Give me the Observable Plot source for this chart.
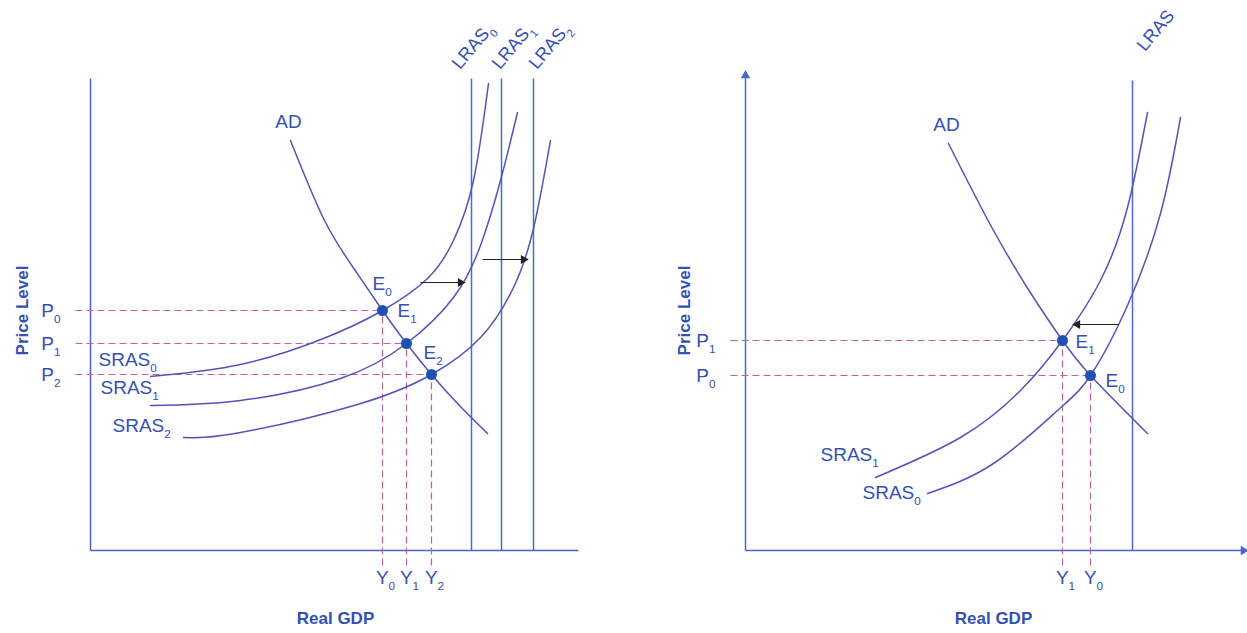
<!DOCTYPE html>
<html><head><meta charset="utf-8">
<script src="https://cdn.jsdelivr.net/npm/d3@7"></script>
<script src="https://cdn.jsdelivr.net/npm/@observablehq/plot@0.6"></script>
<style>
body{margin:0;background:#fff;}
#wrap{display:flex;width:1247px;height:633px;overflow:hidden;}
svg{display:block}
</style>
</head><body><div id="wrap"></div>
<script>
// ---- Left panel: positive supply shock (units: real GDP along x, price level along y, origin at axes corner)
const L_AD     = [[200,410],[233,332],[262,284],[292,240],[316,207],[341,176],[367,147],[397,117]];
const L_SRAS0  = [[60,174],[150,186],[233,212],[292,240],[337,272],[363,310],[383,370],[398,467]];
const L_SRAS1  = [[60,145],[150,150],[250,172],[316,207],[363,253],[390,305],[410,370],[427,438]];
const L_SRAS2  = [[93,113],[150,118],[267,146],[341,176],[390,213],[423,263],[443,322],[460,410]];
const L_LRAS   = [381, 411, 443];
const L_EQ     = [{name:"E_0", x:292, y:240}, {name:"E_1", x:316, y:207}, {name:"E_2", x:341, y:176}];
const L_Ylab   = ["Y_0","Y_1","Y_2"];
const L_Plab   = ["P_0","P_1","P_2"];
const L_shifts = [{x1:330, x2:370, y:268}, {x1:392, x2:433, y:291}];
const L_curveLabels = [{t:"SRAS_0", x:8, y:191}, {t:"SRAS_1", x:10, y:163}, {t:"SRAS_2", x:22, y:125}];
const L_eqLabels = [{t:"E_0", x:282, y:267}, {t:"E_1", x:307, y:240}, {t:"E_2", x:333, y:198}];
const L_lrasLabels = [{t:"LRAS_0", x:365, y:484}, {t:"LRAS_1", x:405, y:484}, {t:"LRAS_2", x:442, y:484}];

// ---- Right panel: negative supply shock
const R_AD     = [[203,407],[248,320],[288,253],[317,210],[345,175],[402,117]];
const R_SRAS1  = [[130,73],[215,113],[275,160],[317,210],[355,270],[382,343],[402,438]];
const R_SRAS0  = [[182,57],[248,87],[312,140],[345,175],[382,245],[415,337],[435,433]];
const R_LRAS   = [387];
const R_EQ     = [{name:"E_1", x:317, y:210}, {name:"E_0", x:345, y:175}];
const R_Ylab   = ["Y_1","Y_0"];
const R_Plab   = ["P_1","P_0"];
const R_shifts = [{x1:373, x2:332, y:226}];
const R_curveLabels = [{t:"SRAS_1", x:75, y:96}, {t:"SRAS_0", x:117, y:58}];
const R_eqLabels = [{t:"E_1", x:330, y:209}, {t:"E_0", x:360, y:170}];
const R_lrasLabels = [{t:"LRAS", x:395, y:502}];

const C = {curve:"#5653b8", axis:"#4b64c9", lras:"#4a6ad3", text:"#3550b0", dot:"#1f50b3", dash:"#c55d9e", arrow:"#222"};
const FONT = "Liberation Sans, Arial, Helvetica, sans-serif";

function panel({width, xdom, AD, sras, lras, lrasTop, eq, ylab, plab, shifts, curveLabels, eqLabels, lrasLabels, arrows, yTop, xEnd, adLabel, ptitle, gtitle}) {
  const marks = [];
  // axes
  marks.push(Plot.link([{x1:0,y1:0,x2:0,y2:yTop}], {x1:"x1",y1:"y1",x2:"x2",y2:"y2", stroke:C.axis, strokeWidth:1.5}));
  marks.push(Plot.link([{x1:0,y1:0,x2:xEnd,y2:0}], {x1:"x1",y1:"y1",x2:"x2",y2:"y2", stroke:C.axis, strokeWidth:1.5}));
  if (arrows) {
    marks.push(Plot.dot([{x:0,y:yTop}], {x:"x", y:"y", symbol:"triangle", r:3.5, fill:C.axis, rotate:0}));
    marks.push(Plot.dot([{x:xEnd,y:0}], {x:"x", y:"y", symbol:"triangle", r:3.5, fill:C.axis, rotate:90}));
  }
  // dashed guides
  marks.push(Plot.link(eq, {x1:-15, x2:"x", y1:"y", y2:"y", stroke:C.dash, strokeWidth:1.2, strokeDasharray:"7,4"}));
  marks.push(Plot.link(eq, {x1:"x", x2:"x", y1:-15, y2:"y", stroke:C.dash, strokeWidth:1.2, strokeDasharray:"7,4"}));
  // LRAS
  marks.push(Plot.link(lras, {x1:d=>d, x2:d=>d, y1:0, y2:lrasTop, stroke:C.lras, strokeWidth:1.5}));
  // curves
  marks.push(Plot.line(AD, {curve:"natural", stroke:C.curve, strokeWidth:1.5}));
  for (const s of sras) marks.push(Plot.line(s, {curve:"natural", stroke:C.curve, strokeWidth:1.5}));
  // shift arrows
  marks.push(Plot.link(shifts, {x1:"x1", x2:"x2", y1:"y", y2:"y", stroke:C.arrow, strokeWidth:1.2}));
  marks.push(Plot.dot(shifts, {x:"x2", y:"y", symbol:"triangle", r:3.4, fill:C.arrow, rotate:d => d.x2 > d.x1 ? 90 : -90}));
  // equilibrium points
  marks.push(Plot.dot(eq, {x:"x", y:"y", r:5.5, fill:C.dot}));
  // labels
  const ts = {fill:C.text, fontSize:19, textAnchor:"start"};
  marks.push(Plot.text([adLabel], {x:"x", y:"y", text:"t", fill:C.text, fontSize:19, textAnchor:"middle"}));
  marks.push(Plot.text(curveLabels, {x:"x", y:"y", text:"t", ...ts}));
  marks.push(Plot.text(eqLabels, {x:"x", y:"y", text:"t", ...ts}));
  marks.push(Plot.text(eq, {x:d=>d.x, y:-27, text:(d,i)=>ylab[i], fill:C.text, fontSize:19, textAnchor:"middle", dx:3}));
  marks.push(Plot.text(eq, {x:-34, y:"y", text:(d,i)=>plab[i], fill:C.text, fontSize:19, textAnchor:"end", dx:4}));
  marks.push(Plot.text(lrasLabels, {x:"x", y:"y", text:"t", fill:C.text, fontSize:18, textAnchor:"start", rotate:-50}));
  // axis titles
  marks.push(Plot.text([ptitle], {x:"x", y:"y", text:"t", rotate:-90, fill:C.text, fontSize:17, fontWeight:"bold", textAnchor:"middle"}));
  marks.push(Plot.text([gtitle], {x:"x", y:"y", text:"t", fill:C.text, fontSize:17, fontWeight:"bold", textAnchor:"middle"}));

  const svg = Plot.plot({
    width, height:633, margin:0,
    x:{domain:xdom, axis:null},
    y:{domain:[-83,550], axis:null},
    style:{fontFamily:FONT, background:"transparent", overflow:"visible"},
    marks
  });
  // render "_n" as a real subscript tspan
  svg.querySelectorAll("text").forEach(t => {
    const s = t.textContent, i = s.indexOf("_");
    if (i < 0 || t.children.length) return;
    t.textContent = s.slice(0, i);
    const sub = document.createElementNS("http://www.w3.org/2000/svg", "tspan");
    sub.setAttribute("font-size", "0.62em");
    sub.setAttribute("dy", "0.55em");
    sub.textContent = s.slice(i + 1);
    t.appendChild(sub);
  });
  return svg;
}

const wrap = document.getElementById("wrap");
wrap.appendChild(panel({
  width:623, xdom:[-90,533], AD:L_AD, sras:[L_SRAS0,L_SRAS1,L_SRAS2], lras:L_LRAS, lrasTop:472,
  eq:L_EQ, ylab:L_Ylab, plab:L_Plab, shifts:L_shifts, curveLabels:L_curveLabels, eqLabels:L_eqLabels,
  lrasLabels:L_lrasLabels, arrows:false, yTop:472, xEnd:488, adLabel:{t:"AD", x:198, y:429},
  ptitle:{t:"Price Level", x:-68, y:240}, gtitle:{t:"Real GDP", x:245, y:-68}
}));
wrap.appendChild(panel({
  width:624, xdom:[-122,502], AD:R_AD, sras:[R_SRAS1,R_SRAS0], lras:R_LRAS, lrasTop:470,
  eq:R_EQ, ylab:R_Ylab, plab:R_Plab, shifts:R_shifts, curveLabels:R_curveLabels, eqLabels:R_eqLabels,
  lrasLabels:R_lrasLabels, arrows:true, yTop:475, xEnd:498, adLabel:{t:"AD", x:201, y:426},
  ptitle:{t:"Price Level", x:-61, y:240}, gtitle:{t:"Real GDP", x:248, y:-68}
}));
</script>
</body></html>
